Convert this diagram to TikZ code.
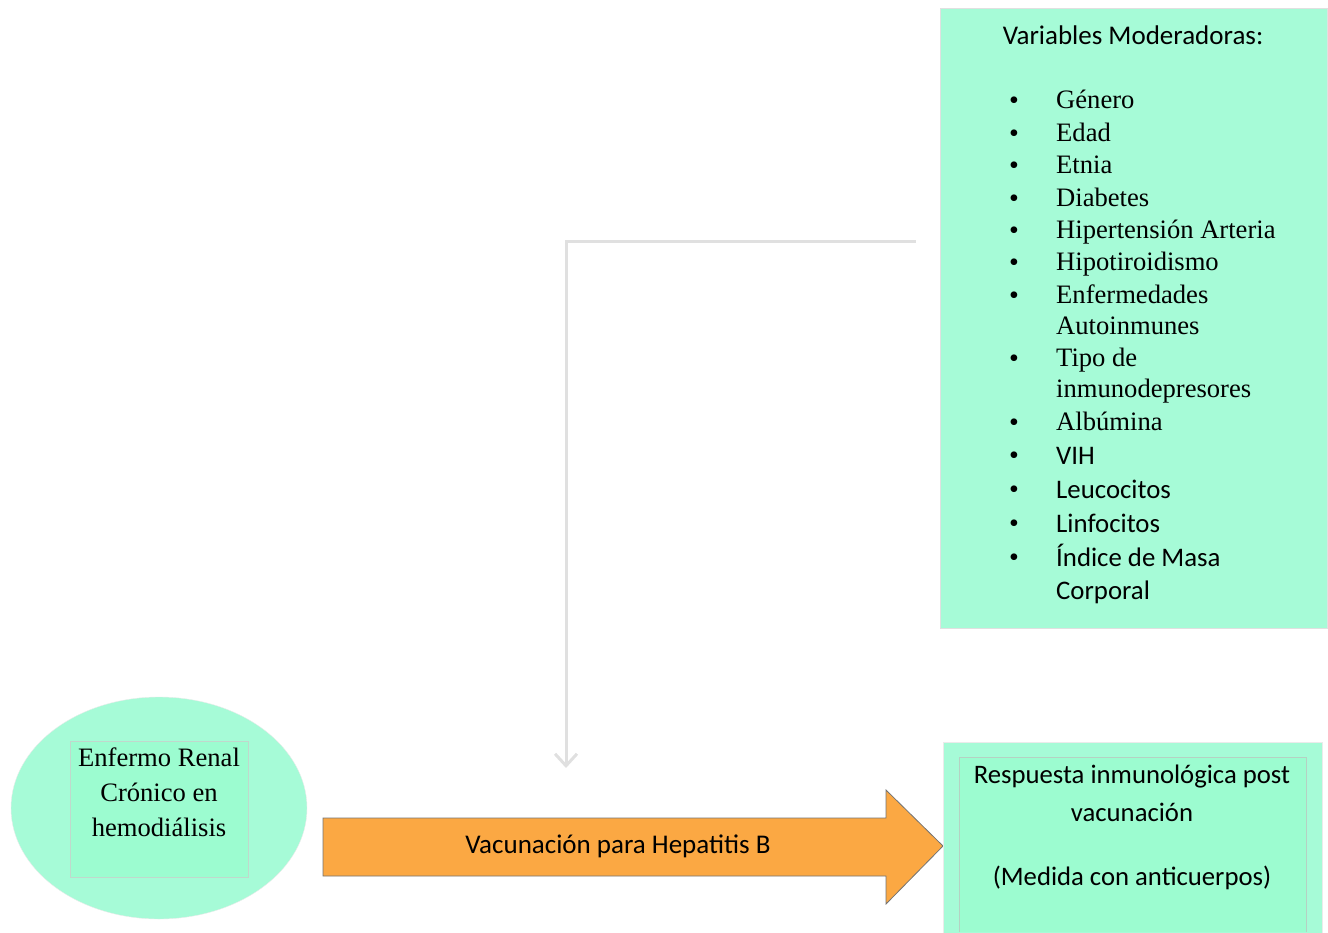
\documentclass[tikz,border=0pt]{standalone}
\usepackage{fontspec}
\setmainfont{Liberation Serif}
\newfontfamily\calfont{Carlito}
\usetikzlibrary{arrows.meta,shapes.geometric}
\definecolor{mint}{RGB}{166,251,215}
\definecolor{mintin}{RGB}{156,252,208}
\definecolor{orng}{RGB}{251,168,67}
\definecolor{conn}{RGB}{224,224,224}
\definecolor{edgeg}{RGB}{150,190,170}
\tikzset{
  serif/.style={font=\fontsize{26.6}{30}\selectfont, anchor=base west, inner sep=0},
  sans/.style={font=\calfont\fontsize{26.8}{30}\selectfont, anchor=base west, inner sep=0},
  bul/.style={font=\fontsize{28}{30}\selectfont, anchor=base, inner sep=0},
  ctext/.style={inner sep=0, anchor=base},
}
\begin{document}
\begin{tikzpicture}[x=1pt,y=-1pt]
\useasboundingbox (0,0) rectangle (1328,932);
% moderator box
\node[draw=black!12, fill=mint, minimum width=387pt, minimum height=620pt, anchor=north west, inner sep=0] (mod) at (940,8) {};
\node[font=\calfont\fontsize{27}{30}\selectfont, ctext] (modt) at (1133,44) {Variables Moderadoras:};
\foreach \n/\y in {1/100,2/133,3/165,4/198,5/230,6/262,7/295,8/358,9/422,10/455,11/489,12/523,13/557}{
  \node[bul] (b\n) at (1014,\y+9) {\textbullet};
}
\node[serif] (i1) at (1056,108) {Género};
\node[serif] (i2) at (1056,141) {Edad};
\node[serif] (i3) at (1056,173) {Etnia};
\node[serif] (i4) at (1056,206) {Diabetes};
\node[serif] (i5) at (1056,238) {Hipertensión Arteria};
\node[serif] (i6) at (1056,270) {Hipotiroidismo};
\node[serif] (i7) at (1056,303) {Enfermedades};
\node[serif] (i7b) at (1056,334) {Autoinmunes};
\node[serif] (i8) at (1056,366) {Tipo de};
\node[serif] (i8b) at (1056,397) {inmunodepresores};
\node[serif] (i9) at (1056,430) {Albúmina};
\node[sans] (i10) at (1056,464) {VIH};
\node[sans] (i11) at (1056,498) {Leucocitos};
\node[sans] (i12) at (1056,532) {Linfocitos};
\node[sans] (i13) at (1056,566) {Índice de Masa};
\node[sans] (i13b) at (1056,599) {Corporal};
% ellipse
\node[ellipse, draw=black!8, fill=mint, minimum width=296pt, minimum height=222pt, inner sep=0] (pat) at (159,808) {};
\node[draw=edgeg!60, fill=mintin, minimum width=178pt, minimum height=136pt, anchor=north west, inner sep=0] (patbox) at (70,741) {};
\node[font=\fontsize{26.6}{35}\selectfont, align=center, anchor=north, inner sep=0] (patt) at (159,748) {Enfermo Renal\\Crónico en\\hemodiálisis};
% arrow
\path[draw=black!55, fill=orng, line width=0.8pt] (323,818) -- (886,818) -- (886,790) -- (943,846) -- (886,904) -- (886,876) -- (323,876) -- cycle;
\node[font=\calfont\fontsize{27}{30}\selectfont, inner sep=0] (vac) at (618,846) {Vacunación para Hepatitis B};
% response box
\node[draw=black!8, fill=mint, minimum width=379pt, minimum height=192pt, anchor=north west, inner sep=0] (resp) at (943,742) {};
\path[draw=edgeg!70, fill=mintin] (959,932) -- (959,757) -- (1306,757) -- (1306,932);
\node[font=\calfont\fontsize{26.7}{38}\selectfont, align=center, anchor=north, inner sep=0] (respt) at (1132,765) {Respuesta inmunológica post\\vacunación\\[26pt](Medida con anticuerpos)};
% connector
\coordinate (cs) at (916,241);
\coordinate (ce) at (566,768);
\draw[conn, line width=3pt, -{Straight Barb[length=12pt,width=22pt,line width=3pt]}] (cs) -- (566,241) -- (ce);
\end{tikzpicture}
\end{document}
